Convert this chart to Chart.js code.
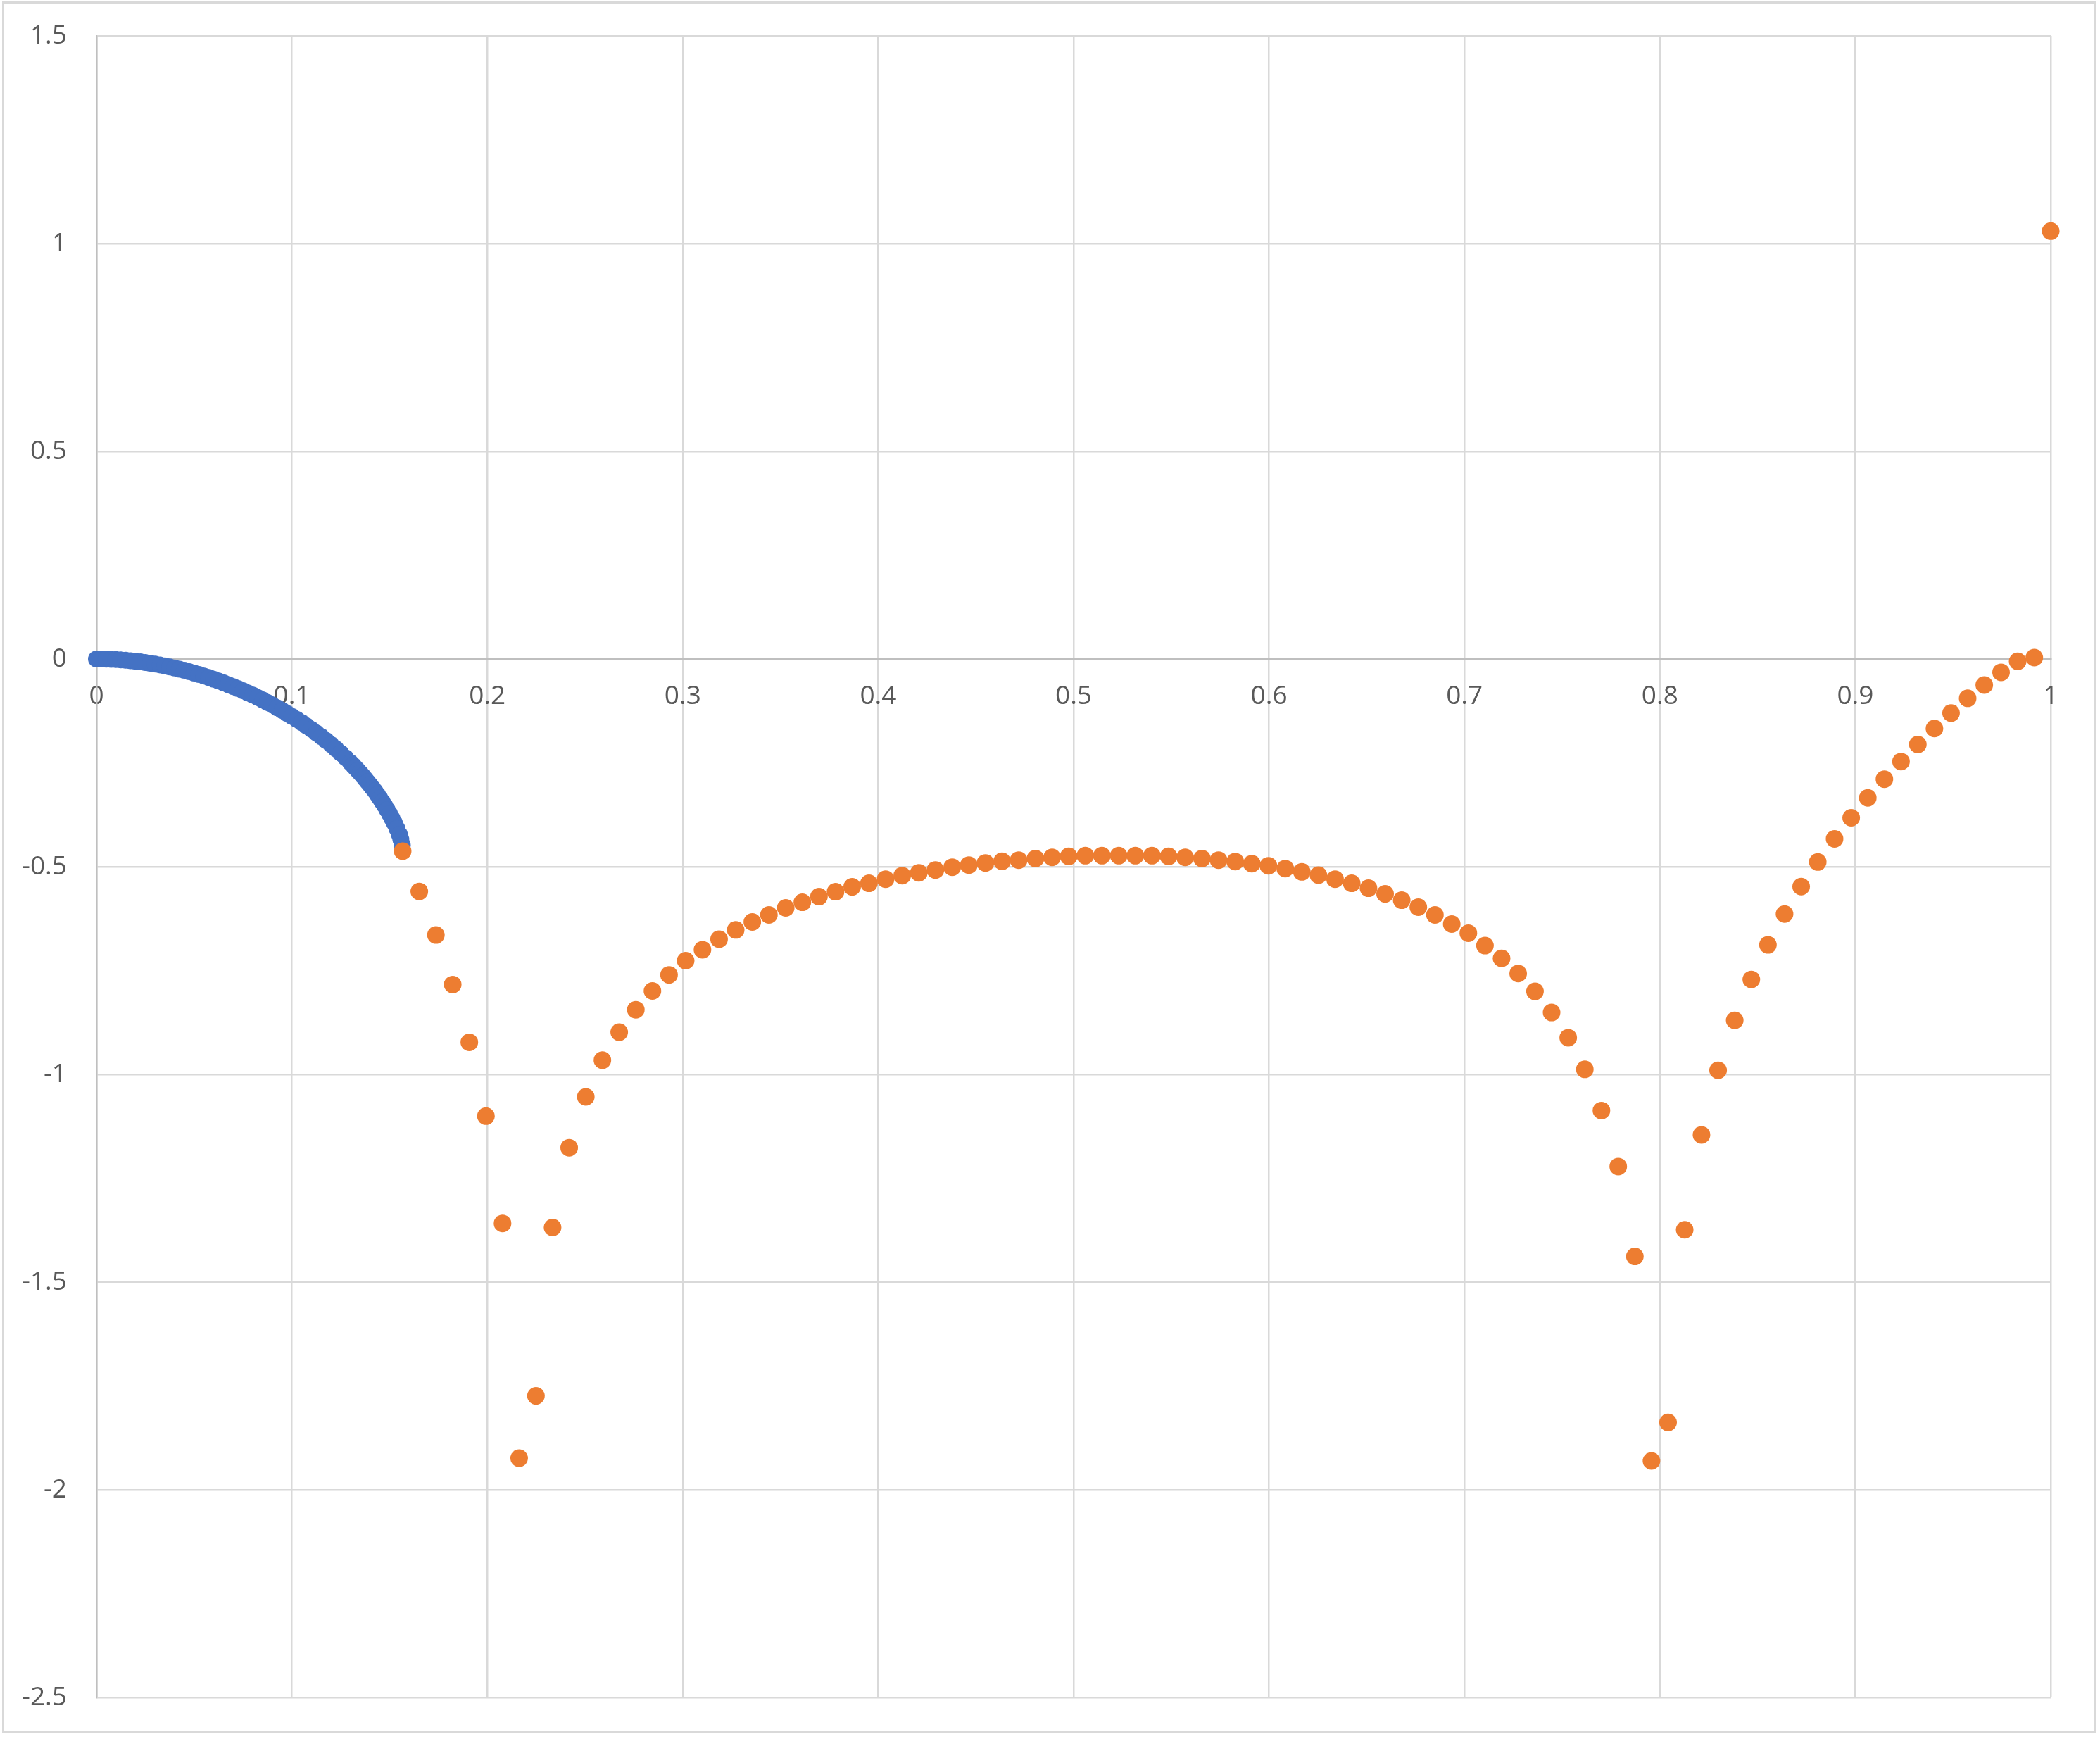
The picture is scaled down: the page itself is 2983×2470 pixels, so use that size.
<!DOCTYPE html>
<html>
<head>
<meta charset="utf-8">
<script src="https://cdn.jsdelivr.net/npm/chart.js@4/dist/chart.umd.min.js"></script>
<style>
  html, body { margin: 0; padding: 0; background: #ffffff; overflow: hidden; }
  #wrap { position: relative; width: 2983px; height: 2470px; }
</style>
</head>
<body>
<div id="wrap"><canvas id="chart"></canvas></div>
<script>
// Axis ticks
const xTicks = [0, 0.1, 0.2, 0.3, 0.4, 0.5, 0.6, 0.7, 0.8, 0.9, 1];
const yTicks = [-2.5, -2, -1.5, -1, -0.5, 0, 0.5, 1, 1.5];

// Blue series (dense band near the origin)
const blueX = [
    0, 0.0025, 0.005, 0.0075, 0.01, 0.0125, 0.015, 0.0175, 0.02, 0.0225,
    0.025, 0.0275, 0.03, 0.0325, 0.035, 0.0375, 0.04, 0.0425, 0.045, 0.0475,
    0.05, 0.0525, 0.055, 0.0575, 0.06, 0.0625, 0.065, 0.0675, 0.07, 0.0725,
    0.075, 0.0775, 0.08, 0.0825, 0.085, 0.0875, 0.09, 0.0925, 0.095, 0.0975,
    0.1, 0.1025, 0.105, 0.1075, 0.11, 0.1125, 0.115, 0.1175, 0.12, 0.1225,
    0.125, 0.1275, 0.13, 0.13125, 0.1325, 0.13375, 0.135, 0.13625, 0.1375, 0.13875,
    0.14, 0.14125, 0.1425, 0.14375, 0.145, 0.14625, 0.1475, 0.14875, 0.15, 0.15125,
    0.1525, 0.15375, 0.155, 0.15575, 0.1565
];
const blueY = [
    0, -0.0001, -0.0003, -0.0008, -0.0014, -0.0021, -0.003, -0.0041, -0.0054, -0.0068,
    -0.0084, -0.0102, -0.0121, -0.0142, -0.0165, -0.019, -0.0216, -0.0244, -0.0273, -0.0305,
    -0.0338, -0.0372, -0.0409, -0.0447, -0.0487, -0.0529, -0.0572, -0.0617, -0.0664, -0.0713,
    -0.0763, -0.0816, -0.087, -0.0926, -0.0985, -0.1045, -0.1108, -0.1172, -0.1239, -0.1309,
    -0.138, -0.1454, -0.1531, -0.161, -0.1693, -0.1779, -0.1868, -0.1961, -0.2058, -0.216,
    -0.2266, -0.2377, -0.2494, -0.2555, -0.2617, -0.2681, -0.2747, -0.2815, -0.2884, -0.2956,
    -0.3029, -0.3104, -0.318, -0.3264, -0.335, -0.344, -0.353, -0.363, -0.373, -0.384,
    -0.395, -0.408, -0.422, -0.434, -0.448
];

// Orange series
const orangeX = [
    0.1567, 0.1652, 0.1737, 0.1823, 0.1908, 0.1993, 0.2078, 0.2163, 0.2249, 0.2334,
    0.2419, 0.2504, 0.2589, 0.2675, 0.2760, 0.2845, 0.2930, 0.3015, 0.3101, 0.3186,
    0.3271, 0.3356, 0.3441, 0.3527, 0.3612, 0.3697, 0.3782, 0.3867, 0.3953, 0.4038,
    0.4123, 0.4208, 0.4293, 0.4379, 0.4464, 0.4549, 0.4634, 0.4719, 0.4805, 0.4890,
    0.4975, 0.5060, 0.5145, 0.5231, 0.5316, 0.5401, 0.5486, 0.5571, 0.5657, 0.5742,
    0.5827, 0.5912, 0.5997, 0.6083, 0.6168, 0.6253, 0.6338, 0.6423, 0.6509, 0.6594,
    0.6679, 0.6764, 0.6849, 0.6935, 0.7020, 0.7105, 0.7190, 0.7275, 0.7361, 0.7446,
    0.7531, 0.7616, 0.7701, 0.7787, 0.7872, 0.7957, 0.8042, 0.8127, 0.8213, 0.8298,
    0.8383, 0.8468, 0.8553, 0.8638, 0.8723, 0.8808, 0.8894, 0.8979, 0.9064, 0.9149,
    0.9234, 0.9320, 0.9405, 0.9490, 0.9575, 0.9660, 0.9746, 0.9831, 0.9916, 1.0
];
const orangeY = [
    -0.4625, -0.5596, -0.6645, -0.7837, -0.9228, -1.1005, -1.3588, -1.9239, -1.7738, -1.3687,
    -1.1766, -1.0541, -0.9658, -0.8985, -0.8444, -0.7991, -0.7605, -0.7263, -0.6998, -0.6744,
    -0.6523, -0.6330, -0.6161, -0.5992, -0.5857, -0.5722, -0.5603, -0.5485, -0.5400, -0.5299,
    -0.5214, -0.5147, -0.5079, -0.5011, -0.4961, -0.4910, -0.4870, -0.4842, -0.4803, -0.4775,
    -0.4752, -0.4735, -0.4735, -0.4735, -0.4735, -0.4735, -0.4752, -0.4775, -0.4803, -0.4842,
    -0.4876, -0.4927, -0.4977, -0.5045, -0.5124, -0.5203, -0.5299, -0.5400, -0.5519, -0.5654,
    -0.5806, -0.5975, -0.6161, -0.6381, -0.6600, -0.6899, -0.7208, -0.7572, -0.8002, -0.8510,
    -0.9117, -0.9879, -1.0872, -1.2219, -1.4382, -1.9305, -1.8378, -1.3742, -1.1457, -0.9901,
    -0.8698, -0.7715, -0.6883, -0.6139, -0.5479, -0.4887, -0.4329, -0.3822, -0.3343, -0.2892,
    -0.2469, -0.2058, -0.1674, -0.1302, -0.0947, -0.0626, -0.0321, -0.0056, 0.0034, 1.03
];

const toPoints = (xs, ys) => xs.map((x, i) => ({ x: x, y: ys[i] }));

const GRID = '#d9d9d9';
const AXIS = '#bfbfbf';
const LABEL = '#595959';
const FONT = { family: "'Open Sans', 'Noto Sans', sans-serif", size: 37 };

// white page + light frame round the whole chart
const framePlugin = {
    id: 'frame',
    beforeDraw(chart) {
        const c = chart.ctx;
        c.save();
        c.fillStyle = '#ffffff';
        c.fillRect(0, 0, chart.width, chart.height);
        c.strokeStyle = GRID;
        c.lineWidth = 3;
        c.strokeRect(4.5, 3.5, 2972, 2456);
        c.restore();
    }
};

new Chart(document.getElementById('chart'), {
    type: 'scatter',
    data: {
        datasets: [
            {
                label: 'Series1',
                data: toPoints(blueX, blueY),
                backgroundColor: '#4472C4',
                borderColor: '#4472C4',
                pointRadius: 12,
                pointBorderWidth: 0,
                order: 1,
                clip: false
            },
            {
                label: 'Series2',
                data: toPoints(orangeX, orangeY),
                backgroundColor: '#ED7D31',
                borderColor: '#ED7D31',
                pointRadius: 12.5,
                pointBorderWidth: 0,
                order: 0,
                clip: false
            }
        ]
    },
    options: {
        responsive: true,
        maintainAspectRatio: false,
        animation: false,
        layout: { padding: { top: 51, right: 70, bottom: 59, left: 0 } },
        plugins: {
            legend: { display: false },
            tooltip: { enabled: false }
        },
        scales: {
            x: {
                type: 'linear',
                position: { y: 0 },
                min: 0,
                max: 1,
                afterBuildTicks: (s) => { s.ticks = xTicks.map(v => ({ value: v })); },
                afterFit: (s) => { s.paddingLeft = 0; s.paddingRight = 0; },
                grid: { color: GRID, lineWidth: 2.5, drawTicks: false },
                border: { color: AXIS, width: 2.5 },
                ticks: {
                    color: LABEL,
                    font: FONT,
                    padding: 31,
                    maxRotation: 0,
                    autoSkip: false,
                    callback: (v) => String(v)
                }
            },
            y: {
                type: 'linear',
                min: -2.5,
                max: 1.5,
                afterBuildTicks: (s) => { s.ticks = yTicks.map(v => ({ value: v })); },
                afterFit: (s) => { s.width = 137; s.paddingTop = 0; s.paddingBottom = 0; },
                grid: { color: GRID, lineWidth: 2.5, drawTicks: false },
                border: { color: AXIS, width: 2.5 },
                ticks: {
                    color: LABEL,
                    font: FONT,
                    padding: 42,
                    autoSkip: false,
                    callback: (v) => String(v)
                }
            }
        }
    },
    plugins: [framePlugin]
});
</script>
</body>
</html>
